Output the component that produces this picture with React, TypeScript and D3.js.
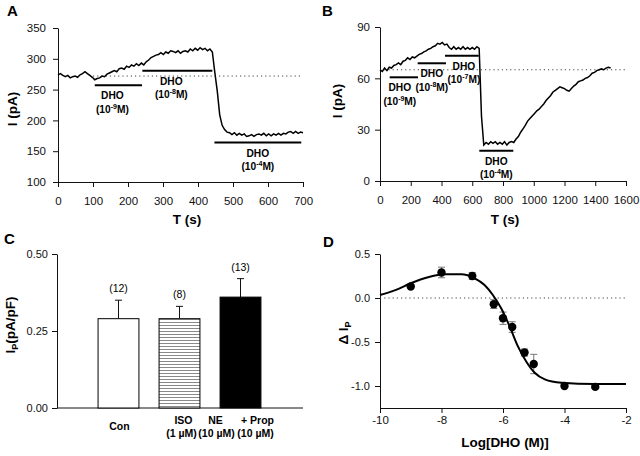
import React, { useEffect, useRef } from "react";
import * as d3 from "d3";

// Panel A: holding current trace, one sample every 7 s (pA)
const stepA = 7;
const traceA = [
  274, 276, 273, 271, 273, 269, 271, 272, 270, 274, 276, 279, 276, 273, 270, 266, 268, 269, 272, 271,
  275, 277, 279, 281, 279, 284, 285, 283, 288, 286, 290, 288, 292, 289, 293, 290, 295, 298, 302, 304,
  306, 307, 310, 307, 311, 309, 313, 312, 310, 313, 309, 312, 313, 311, 316, 313, 317, 314, 318, 315,
  317, 313, 316, 311, 278, 248, 209, 192, 185, 181, 180, 177, 180, 176, 179, 176, 178, 174, 175, 177,
  174, 177, 178, 176, 179, 175, 178, 175, 178, 176, 179, 176, 179, 178, 181, 182, 179, 182, 179, 181,
  180,
];
const baselineA = 272;
const drugA = [
  { from: 105, to: 240, level: 257, exp: "-9" },
  { from: 241, to: 441, level: 280.5, exp: "-8" },
  { from: 447, to: 695, level: 164, exp: "-4" },
];
const labelDxA = [-6, -6, 0];

// Panel B: trace, one sample every 15 s (pA)
const stepB = 15;
const traceB = [
  65, 64, 66, 64.5, 66.5, 66, 67.5, 68, 69, 68, 70, 70.5, 72, 71, 72.5, 72, 73, 74, 74.5, 75.5,
  76, 77, 77.5, 78.5, 79, 80.5, 80, 81, 79.5, 80, 78, 77, 78.5, 77, 78, 77, 78.5, 77, 78, 77,
  78, 77, 78.5, 77.5, 38, 21, 22.5, 21.5, 23, 22, 23, 21.5, 22.5, 21.5, 23, 21, 22.5, 23, 22.5, 24.5,
  26, 28.5, 30.5, 32.5, 35, 36.5, 38, 39.5, 41, 42, 43.5, 45, 47, 48.5, 50, 52, 53, 54, 55, 54.5,
  54, 53, 52.5, 54, 55.5, 56.5, 58, 58.5, 59, 60, 60.5, 61.5, 63, 63.5, 64.5, 65, 65.5, 65, 66, 66.5,
  66,
];
const baselineB = 65;
const drugB = [
  { from: 63, to: 247, level: 60.6, exp: "-9" },
  { from: 245, to: 429, level: 68.8, exp: "-8" },
  { from: 423, to: 642, level: 73.2, exp: "-7" },
  { from: 646, to: 867, level: 17.7, exp: "-4" },
];
const labelDxB = [-4, 0, 2, 0];

// Panel C: Ip density
const categoriesC = ["Con", "ISO", "NE + Prop"];
const meansC = [0.29, 0.29, 0.36];
const semC = [0.06, 0.04, 0.06];
const countsC = [12, 8, 13];

// Panel D: concentration response
const logDHO = [-9, -8, -7, -6.3, -6, -5.7, -5.3, -5, -4, -3];
const deltaIp = [0.13, 0.29, 0.25, -0.07, -0.23, -0.33, -0.62, -0.75, -1.0, -1.01];
const deltaErr = [0.02, 0.06, 0.04, 0.05, 0.07, 0.06, 0.04, 0.11, 0.02, 0.02];
const fitX = [-10, -9.5, -9, -8.44, -7.9, -7.36, -6.92, -6.6, -6.33, -6.06, -5.78, -5.51, -5.24, -4.97, -4.64, -4.1, -3.02, -2];
const fitY = [0.034, 0.09, 0.167, 0.235, 0.269, 0.269, 0.224, 0.148, 0.034, -0.117, -0.326, -0.553, -0.724, -0.849, -0.924, -0.962, -0.977, -0.977];

const font = "'Liberation Sans', Arial, sans-serif";

export default function App() {
  const svgRef = useRef<SVGSVGElement | null>(null);

  useEffect(() => {
    document.body.style.margin = "0";
    const svg = d3.select(svgRef.current);
    svg.selectAll("*").remove();
    svg.attr("font-family", font);

    const styleAxis = (g: any, size: number) => {
      g.attr("font-family", font);
      g.selectAll("text").attr("font-size", size).attr("fill", "#111");
      g.selectAll("line,path").attr("stroke", "#111");
    };

    const title = (txt: string, x: number, y: number) =>
      svg.append("text").attr("x", x).attr("y", y).attr("font-size", 15).attr("font-weight", "bold").text(txt);

    const yTitle = (x: number, y: number) =>
      svg.append("text").attr("transform", `translate(${x},${y}) rotate(-90)`).attr("text-anchor", "middle")
        .attr("font-size", 13.5).attr("font-weight", "bold");

    const xTitle = (txt: string, x: number, y: number) =>
      svg.append("text").attr("x", x).attr("y", y).attr("text-anchor", "middle")
        .attr("font-size", 13.5).attr("font-weight", "bold").text(txt);

    const drugLabel = (x: number, y: number, exp: string) => {
      svg.append("text").attr("x", x).attr("y", y + 14).attr("text-anchor", "middle")
        .attr("font-size", 10.2).attr("font-weight", "bold").text("DHO");
      const t = svg.append("text").attr("x", x).attr("y", y + 27.5).attr("text-anchor", "middle")
        .attr("font-size", 10.2).attr("font-weight", "bold");
      t.append("tspan").text("(10");
      t.append("tspan").attr("font-size", 7).attr("dy", -4).text(exp);
      t.append("tspan").attr("dy", 4).text("M)");
    };

    // ---------- A ----------
    const xA = d3.scaleLinear().domain([0, 700]).range([58, 303]);
    const yA = d3.scaleLinear().domain([100, 350]).range([182, 28]);
    svg.append("g").attr("transform", "translate(0,182)")
      .call(d3.axisBottom(xA).tickValues(d3.range(0, 701, 100)).tickSize(5).tickPadding(10).tickSizeOuter(0))
      .call(styleAxis, 11.5);
    svg.append("g").attr("transform", "translate(58,0)")
      .call(d3.axisLeft(yA).tickValues(d3.range(100, 351, 50)).tickSize(5).tickPadding(7).tickSizeOuter(0))
      .call(styleAxis, 11.5);
    svg.append("line").attr("x1", xA(100)).attr("x2", xA(700)).attr("y1", yA(baselineA)).attr("y2", yA(baselineA))
      .attr("stroke", "#444").attr("stroke-dasharray", "1.2,3");
    svg.append("path")
      .attr("d", d3.line<number>().x((_, i) => xA(i * stepA)).y((d) => yA(d))(traceA))
      .attr("fill", "none").attr("stroke", "#000").attr("stroke-width", 1.5);
    drugA.forEach((d, i) => {
      svg.append("line").attr("x1", xA(d.from)).attr("x2", xA(d.to)).attr("y1", yA(d.level)).attr("y2", yA(d.level))
        .attr("stroke", "#000").attr("stroke-width", 2);
      drugLabel((xA(d.from) + xA(d.to)) / 2 + labelDxA[i], yA(d.level), d.exp);
    });
    title("A", 7, 16);
    yTitle(17, 109).text("I (pA)");
    xTitle("T (s)", 187, 224);

    // ---------- B ----------
    const xB = d3.scaleLinear().domain([0, 1600]).range([380, 626]);
    const yB = d3.scaleLinear().domain([0, 90]).range([181, 27]);
    svg.append("g").attr("transform", "translate(0,181)")
      .call(d3.axisBottom(xB).tickValues(d3.range(0, 1601, 200)).tickFormat(d3.format("d") as any).tickSize(5).tickPadding(10).tickSizeOuter(0))
      .call(styleAxis, 11.5);
    svg.append("g").attr("transform", "translate(380,0)")
      .call(d3.axisLeft(yB).tickValues([0, 30, 60, 90]).tickSize(5).tickPadding(5).tickSizeOuter(0))
      .call(styleAxis, 11.5);
    svg.append("line").attr("x1", xB(0)).attr("x2", xB(1600)).attr("y1", yB(baselineB)).attr("y2", yB(baselineB))
      .attr("stroke", "#444").attr("stroke-dasharray", "1.2,3");
    svg.append("path")
      .attr("d", d3.line<number>().x((_, i) => xB(i * stepB)).y((d) => yB(d))(traceB))
      .attr("fill", "none").attr("stroke", "#000").attr("stroke-width", 1.5);
    drugB.forEach((d, i) => {
      svg.append("line").attr("x1", xB(d.from)).attr("x2", xB(d.to)).attr("y1", yB(d.level)).attr("y2", yB(d.level))
        .attr("stroke", "#000").attr("stroke-width", 2);
      drugLabel((xB(d.from) + xB(d.to)) / 2 + labelDxB[i], yB(d.level), d.exp);
    });
    title("B", 322, 16);
    yTitle(342, 101).text("I (pA)");
    xTitle("T (s)", 505, 224);

    // ---------- C ----------
    const defs = svg.append("defs");
    const pat = defs.append("pattern").attr("id", "hatch").attr("patternUnits", "userSpaceOnUse")
      .attr("width", 6).attr("height", 3);
    pat.append("rect").attr("width", 6).attr("height", 3).attr("fill", "#fff");
    pat.append("line").attr("x1", 0).attr("x2", 6).attr("y1", 1.5).attr("y2", 1.5)
      .attr("stroke", "#8a8a8a").attr("stroke-width", 1);

    const xC = d3.scaleBand().domain(categoriesC).range([88, 271]).paddingInner(0.33).paddingOuter(0.165);
    const yC = d3.scaleLinear().domain([0, 0.5]).range([408, 254]);
    svg.append("g").attr("transform", "translate(57,0)")
      .call(d3.axisLeft(yC).tickValues([0, 0.25, 0.5]).tickFormat(d3.format(".2f") as any).tickSize(5).tickPadding(4).tickSizeOuter(0))
      .call(styleAxis, 11);
    svg.append("line").attr("x1", 57).attr("x2", 303).attr("y1", 408).attr("y2", 408).attr("stroke", "#111");
    const fillsC = ["#fff", "url(#hatch)", "#000"];
    categoriesC.forEach((c, i) => {
      const x = xC(c)!;
      const cx = x + xC.bandwidth() / 2;
      const top = yC(meansC[i] + semC[i]);
      svg.append("line").attr("x1", cx).attr("x2", cx).attr("y1", yC(meansC[i])).attr("y2", top).attr("stroke", "#111");
      svg.append("line").attr("x1", cx - 3.5).attr("x2", cx + 3.5).attr("y1", top).attr("y2", top).attr("stroke", "#111");
      svg.append("rect").attr("x", x).attr("y", yC(meansC[i])).attr("width", xC.bandwidth())
        .attr("height", 408 - yC(meansC[i])).attr("fill", fillsC[i]).attr("stroke", "#000").attr("stroke-width", 1);
      svg.append("text").attr("x", cx).attr("y", top - 8).attr("text-anchor", "middle").attr("font-size", 10.5)
        .text(`(${countsC[i]})`);
    });
    const lab = (txt: string, x: number, y: number) =>
      svg.append("text").attr("x", x).attr("y", y).attr("text-anchor", "middle").attr("font-size", 10.5)
        .attr("font-weight", "bold").text(txt);
    const cC = (c: string) => xC(c)! + xC.bandwidth() / 2;
    lab("Con", cC("Con") + 1, 430);
    lab("ISO", cC("ISO") + 4, 424);
    lab("(1 \u00b5M)", cC("ISO") + 2, 437);
    lab("NE", cC("NE + Prop") - 25, 424);
    lab("+ Prop", cC("NE + Prop") + 17, 424);
    lab("(10 \u00b5M)", cC("NE + Prop") - 24, 437);
    lab("(10 \u00b5M)", cC("NE + Prop") + 15, 437);
    title("C", 4, 244);
    const ylC = yTitle(15, 325);
    ylC.append("tspan").text("I");
    ylC.append("tspan").attr("font-size", 9).attr("dy", 3).text("P");
    ylC.append("tspan").attr("dy", -3).text("(pA/pF)");

    // ---------- D ----------
    const xD = d3.scaleLinear().domain([-10, -2]).range([380, 626]);
    const yD = d3.scaleLinear().domain([-1.25, 0.5]).range([408, 254]);
    svg.append("g").attr("transform", "translate(0,408)")
      .call(d3.axisBottom(xD).tickValues([-10, -8, -6, -4, -2]).tickFormat((d) => `${d}`).tickSize(5).tickPadding(3).tickSizeOuter(0))
      .call(styleAxis, 11.5);
    svg.append("g").attr("transform", "translate(380,0)")
      .call(d3.axisLeft(yD).tickValues([0.5, 0, -0.5, -1]).tickFormat((d) => (+d).toFixed(1)).tickSize(5).tickPadding(5).tickSizeOuter(0))
      .call(styleAxis, 11);
    svg.append("line").attr("x1", xD(-10)).attr("x2", xD(-2)).attr("y1", yD(0)).attr("y2", yD(0))
      .attr("stroke", "#444").attr("stroke-dasharray", "1.2,3");
    logDHO.forEach((x, i) => {
      const cx = xD(x);
      const y1 = yD(deltaIp[i] + deltaErr[i]);
      const y2 = yD(deltaIp[i] - deltaErr[i]);
      svg.append("line").attr("x1", cx).attr("x2", cx).attr("y1", y1).attr("y2", y2).attr("stroke", "#777");
      [y1, y2].forEach((yy) =>
        svg.append("line").attr("x1", cx - 3.5).attr("x2", cx + 3.5).attr("y1", yy).attr("y2", yy).attr("stroke", "#777"));
    });
    svg.append("path")
      .attr("d", d3.line<number>().x((d) => xD(d)).y((_, i) => yD(fitY[i])).curve(d3.curveMonotoneX)(fitX))
      .attr("fill", "none").attr("stroke", "#000").attr("stroke-width", 2);
    svg.selectAll("circle.pt").data(logDHO).enter().append("circle").attr("class", "pt")
      .attr("cx", (d) => xD(d)).attr("cy", (_, i) => yD(deltaIp[i])).attr("r", 4.2).attr("fill", "#000");
    title("D", 323, 247);
    const ylD = yTitle(348, 333);
    ylD.append("tspan").text("\u0394 I");
    ylD.append("tspan").attr("font-size", 9).attr("dy", 3).text("P");
    xTitle("Log[DHO (M)]", 505, 447);
  }, []);

  return <svg ref={svgRef} width={640} height={456} style={{ display: "block", background: "#fff" }} />;
}
